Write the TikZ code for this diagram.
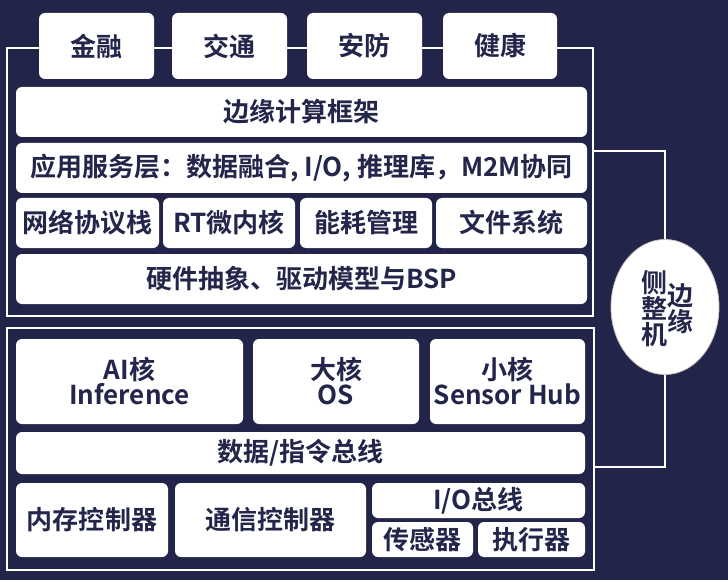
\documentclass[tikz,border=0pt]{standalone}
\usepackage{fontspec}
\setmainfont{Noto Sans CJK SC}[BoldFont={Noto Sans CJK SC Bold}]
\usetikzlibrary{shapes.geometric}
\definecolor{navy}{HTML}{232449}
\definecolor{ink}{HTML}{23264A}
\newcommand\cell[6]{\node[cellbox,minimum width={#4pt-#2pt},minimum height={#5pt-#3pt}] (#1) at ({(#2+#4)/2},{(#3+#5)/2}) {#6};}
\begin{document}
\begin{tikzpicture}[x=1pt,y=-1pt,
  cellbox/.style={fill=white,rounded corners=6pt,inner sep=0pt,outer sep=0pt,text=ink,font=\fontsize{26}{25}\selectfont\bfseries,align=center},
  frame/.style={draw=white,line width=1.6pt,inner sep=0pt,outer sep=0pt},
  wire/.style={draw=white,line width=1.6pt},
  elltext/.style={text=ink,font=\fontsize{26}{26}\selectfont\bfseries,align=center,inner sep=0pt}]
\fill[navy] (0,0) rectangle (728,580);
\useasboundingbox (0,0) rectangle (728,580);
% frames
\node[frame,minimum width=586pt,minimum height=268pt] (upper) at (300,182) {};
\node[frame,minimum width=587pt,minimum height=242pt] (lower) at (300.5,449) {};
% ellipse
\node[ellipse,fill=white,draw=gray!45,line width=0.8pt,minimum width=108pt,minimum height=135pt,inner sep=0pt] (ell) at (665,307) {};
\node[elltext] (ellA) at (654,309) {侧\\整\\机};
\node[elltext] (ellB) at (680,309) {边\\缘};
\coordinate (j1) at (665,151);
\coordinate (j2) at (665,467);
\draw[wire] (upper.east |- j1) -- (j1) -- (ell.north);
\draw[wire] (ell.south) -- (j2) -- (lower.east |- j2);
% upper boxes
\cell{jr}{39}{13}{154}{79}{金融}
\cell{jt}{172}{13}{287}{79}{交通}
\cell{af}{307}{13}{422}{79}{安防}
\cell{jk}{443}{13}{557}{79}{健康}
\cell{fw}{16}{87}{587}{137}{边缘计算框架}
\cell{app}{16}{143}{587}{193}{应用服务层：数据融合, I/O, 推理库，M2M协同}
\cell{net}{16}{198}{159}{248}{网络协议栈}
\cell{rt}{163}{198}{295}{248}{RT微内核}
\cell{pw}{300}{198}{432}{248}{能耗管理}
\cell{fs}{436}{198}{587}{248}{文件系统}
\cell{hal}{16}{254}{587}{304}{硬件抽象、驱动模型与BSP}
% lower boxes
\cell{ai}{16}{339}{243}{424}{AI核\\Inference}
\cell{big}{253}{339}{419}{424}{大核\\OS}
\cell{small}{430}{339}{585}{424}{小核\\Sensor Hub}
\cell{bus}{16}{432}{585}{474}{数据/指令总线}
\cell{mem}{16}{483}{168}{557}{内存控制器}
\cell{com}{175}{483}{366}{557}{通信控制器}
\cell{io}{372}{483}{585}{518}{I/O总线}
\cell{sen}{372}{522}{473}{557}{传感器}
\cell{act}{478}{522}{585}{557}{执行器}
\end{tikzpicture}
\end{document}
